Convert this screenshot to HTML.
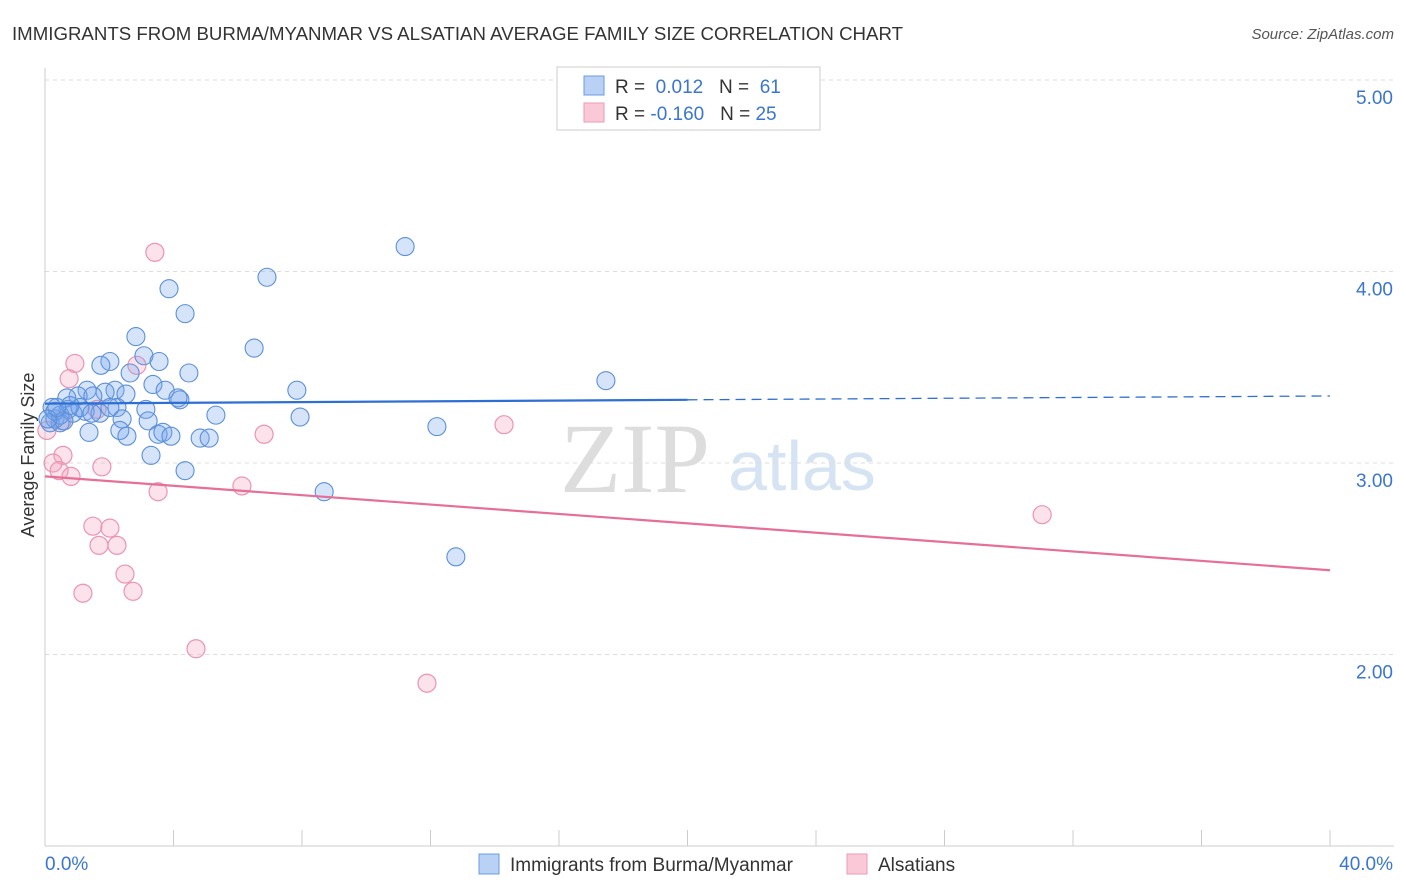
<!DOCTYPE html>
<html><head><meta charset="utf-8"><style>
body{margin:0;background:#fff;font-family:"Liberation Sans",sans-serif;}
#c{position:relative;width:1406px;height:892px;overflow:hidden}
</style></head><body>
<div id="c">
<svg id="s" width="1406" height="892" xmlns="http://www.w3.org/2000/svg">
<text x="12" y="40" font-size="18" fill="#333" textLength="891" lengthAdjust="spacingAndGlyphs">IMMIGRANTS FROM BURMA/MYANMAR VS ALSATIAN AVERAGE FAMILY SIZE CORRELATION CHART</text>
<text x="1394" y="39" font-size="15" fill="#555" text-anchor="end" font-style="italic">Source: ZipAtlas.com</text>
<text x="635" y="492" font-size="100" fill="#ddd" text-anchor="middle" font-family="Liberation Serif,serif">ZIP</text>
<text x="802" y="490" font-size="70" fill="#d6e3f3" text-anchor="middle">atlas</text>
<text transform="translate(34,455) rotate(-90)" font-size="18" fill="#333" text-anchor="middle">Average Family Size</text>
<g id="grid"></g><g id="pts"></g><g id="lines"></g>
<g>
<rect x="557" y="67" width="263" height="63" fill="#fff" stroke="#ccc"/>
<rect x="584" y="76" width="20" height="19" fill="#b9d1f5" stroke="#6b9be0"/>
<rect x="584" y="103" width="20" height="19" fill="#f9c9d8" stroke="#ee9ab5"/>
<text x="615" y="93" font-size="19" fill="#333">R = <tspan fill="#3a76d0">&#160;0.012</tspan>&#160;&#160;&#160;N = <tspan fill="#3a76d0">&#160;61</tspan></text>
<text x="615" y="120" font-size="19" fill="#333">R = <tspan fill="#3a76d0">-0.160</tspan>&#160;&#160;&#160;N = <tspan fill="#3a76d0">25</tspan></text>
</g>
<g>
<rect x="479" y="854" width="20" height="20" fill="#b9d1f5" stroke="#6b9be0"/>
<text x="510" y="871" font-size="19" fill="#333">Immigrants from Burma/Myanmar</text>
<rect x="847" y="854" width="20" height="20" fill="#f9c9d8" stroke="#ee9ab5"/>
<text x="878" y="871" font-size="19" fill="#333">Alsatians</text>
</g>
</svg></div>
<script>
const blueX=[11.21,6.91,3.86,4.36,2.83,6.51,3.08,3.55,2.02,1.74,2.65,4.48,17.46,3.36,3.74,2.18,1.31,7.84,1.87,1.03,2.52,0.68,4.20,4.14,1.49,0.22,0.72,3.14,2.24,1.25,1.71,0.87,2.40,3.21,5.32,7.94,0.31,0.47,0.16,1.37,2.33,2.55,3.52,3.67,3.92,4.83,5.11,12.20,3.30,4.36,8.69,12.79,0.47,1.09,1.46,0.31,0.59,2.02,0.78,0.09,0.37];
const blueY=[4.13,3.97,3.91,3.78,3.66,3.60,3.56,3.53,3.53,3.51,3.47,3.47,3.43,3.41,3.38,3.38,3.38,3.38,3.37,3.35,3.36,3.34,3.33,3.34,3.35,3.29,3.28,3.28,3.29,3.27,3.26,3.26,3.23,3.22,3.25,3.24,3.23,3.21,3.21,3.16,3.17,3.14,3.15,3.16,3.14,3.13,3.13,3.19,3.04,2.96,2.85,2.51,3.25,3.29,3.26,3.27,3.22,3.29,3.30,3.23,3.29];
const pinkX=[3.42,0.93,2.86,0.75,1.62,0.53,6.82,14.29,0.56,0.25,0.44,0.81,1.77,3.52,6.13,1.49,2.02,2.24,1.68,2.49,1.18,2.74,4.70,11.89,31.04,0.06];
const pinkY=[4.10,3.52,3.51,3.44,3.28,3.22,3.15,3.20,3.04,3.00,2.96,2.93,2.98,2.85,2.88,2.67,2.66,2.57,2.57,2.42,2.32,2.33,2.03,1.85,2.73,3.17];
const yTicks=[2,3,4,5];
const yTickLabels=["2.00","3.00","4.00","5.00"];
const xTicks=[0,4,8,12,16,20,24,28,32,36,40];
const blueTrend=[3.31,3.35];
const pinkTrend=[2.93,2.44];
const NS="http://www.w3.org/2000/svg";
const X=v=>45+v/40*1285, Y=v=>463-(v-3)*191.5;
function mk(p,t,a){const e=document.createElementNS(NS,t);for(const k in a)e.setAttribute(k,a[k]);p.appendChild(e);return e;}
const g=document.getElementById('grid');
yTicks.forEach((t,i)=>{
 const l=mk(g,'line',{x1:45,x2:1394,y1:Y(t),y2:Y(t),stroke:'#ddd','stroke-dasharray':'4,4'});
 
 
 const tx=mk(g,'text',{x:1393,y:Y(t)+24,'font-size':19,fill:'#3a76d0','text-anchor':'end'});tx.textContent=yTickLabels[i];
 
 
});
const ax=mk(g,'line',{x1:45,x2:45,y1:68,y2:846,stroke:'#ccc'});


const bx=mk(g,'line',{x1:45,x2:1394,y1:846,y2:846,stroke:'#ccc'});


xTicks.forEach(t=>{const l=mk(g,'line',{x1:X(t),x2:X(t),y1:830,y2:846,stroke:'#ccc'});
 
 });
const x0=mk(g,'text',{x:45,y:870,'font-size':19,fill:'#3a76d0'});x0.textContent='0.0%';


const x1=mk(g,'text',{x:1393,y:870,'font-size':19,fill:'#3a76d0','text-anchor':'end'});x1.textContent='40.0%';


const pg=document.getElementById('pts');
pinkX.forEach((v,i)=>{const c=mk(pg,'circle',{cx:X(v),cy:Y(pinkY[i]),r:9,fill:'rgba(243,160,190,0.3)',stroke:'#ec94b2','stroke-width':1.2});
 
 });
blueX.forEach((v,i)=>{const c=mk(pg,'circle',{cx:X(v),cy:Y(blueY[i]),r:9,fill:'rgba(120,165,235,0.3)',stroke:'#5a8fdb','stroke-width':1.1});
 
 });
const lg=document.getElementById('lines');
const bm=blueTrend[0]+(blueTrend[1]-blueTrend[0])*0.5;
const b1=mk(lg,'line',{x1:X(0),y1:Y(blueTrend[0]),x2:X(20),y2:Y(bm),stroke:'#2f6fd3','stroke-width':2.2});


const b2=mk(lg,'line',{x1:X(20),y1:Y(bm),x2:X(40),y2:Y(blueTrend[1]),stroke:'#2f6fd3','stroke-width':1.3,'stroke-dasharray':'10,6'});


const p1=mk(lg,'line',{x1:X(0),y1:Y(pinkTrend[0]),x2:X(40),y2:Y(pinkTrend[1]),stroke:'#e66f98','stroke-width':2.2});


</script>
</body></html>
